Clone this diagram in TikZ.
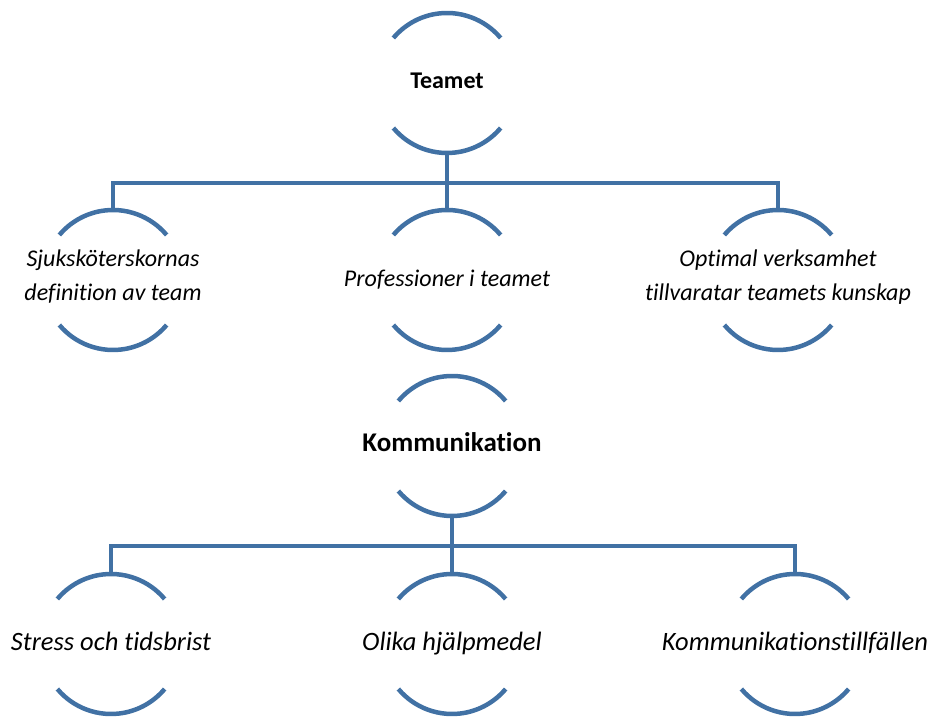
\documentclass[tikz,border=0pt]{standalone}
\usepackage{fontspec}
\setmainfont[Ligatures=NoCommon]{Carlito}
\usepackage{xcolor}
\usepackage{tikz}
\definecolor{bowblue}{RGB}{65,113,164}
\tikzset{
  sub/.style={align=center,inner sep=0pt,execute at begin node=\strut,execute at end node=\strut,
    font=\fontsize{#1}{34}\selectfont\itshape},
  sub/.default=24,
  head/.style={align=center,inner sep=0pt,execute at begin node=\strut,execute at end node=\strut,
    font=\fontsize{#1}{30}\selectfont\bfseries},
  head/.default=24,
  bow/.style={draw=bowblue,line width=4.5pt}
}
% two arcs round a node, plus its top and bottom points
\newcommand\bows[1]{%
  \draw[bow] ([shift={(40:70pt)}]#1.center) arc[start angle=40,end angle=140,radius=70pt];
  \draw[bow] ([shift={(220:70pt)}]#1.center) arc[start angle=220,end angle=320,radius=70pt];
  \coordinate (#1-top) at ([yshift=70pt]#1.center);
  \coordinate (#1-bot) at ([yshift=-70pt]#1.center);}

\begin{document}
\begin{tikzpicture}[x=1pt,y=1pt]
    \useasboundingbox (0,0) rectangle (930,717);
    \node[head] (teamet) at (447,634) {Teamet};
    \node[sub] (sjuk) at (113,437) {Sjuksköterskornas\\definition av team};
    \node[sub] (prof) at (447,437) {Professioner i teamet};
    \node[sub] (optimal) at (778,437) {Optimal verksamhet\\tillvaratar teamets kunskap};
    \node[head=27] (komm) at (452,271) {Kommunikation};
    \node[sub=26.5] (stress) at (111,73) {Stress och tidsbrist};
    \node[sub=26.5] (olika) at (452,73) {Olika hjälpmedel};
    \node[sub=26.5] (tillf) at (795,73) {Kommunikationstillfällen};
    \foreach \n in {teamet,sjuk,prof,optimal,komm,stress,olika,tillf} \bows{\n};
    \draw[bow] (sjuk-top) |- ([yshift=-30pt]teamet-bot) -| (optimal-top);
    \draw[bow] (teamet-bot) -- (prof-top);
    \draw[bow] (stress-top) |- ([yshift=-30pt]komm-bot) -| (tillf-top);
    \draw[bow] (komm-bot) -- (olika-top);
\end{tikzpicture}
\end{document}
